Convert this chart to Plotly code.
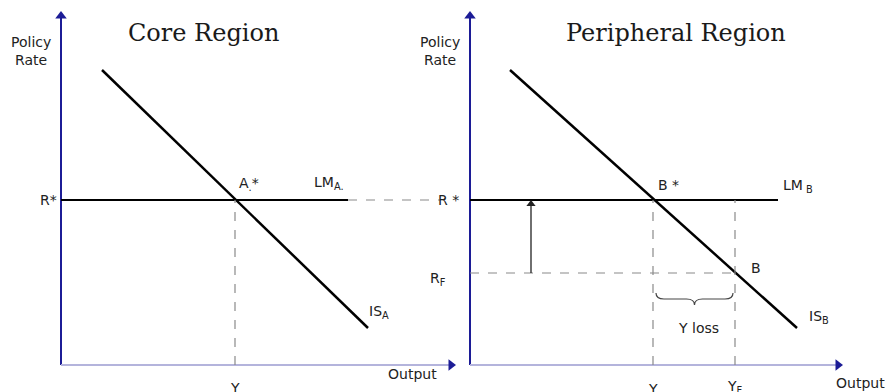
import plotly.graph_objects as go
from plotly.subplots import make_subplots

# values, origin of each panel at its axes corner
# core region (A)
is_a_x = [41, 307]
is_a_y = [295, 37]
r_star = 165
y_star_a = 174
lm_a_end = 287
lm_a_dash_end = 379
xaxis_a_end = 394

# peripheral region (B)
is_b_x = [40, 327]
is_b_y = [295, 37]
y_star_b = 183
y_f = 265
r_f = 92
lm_b_end = 308
arrow_b_x = 61
xaxis_b_end = 372

yaxis_top = 353

navy = "#1c1c96"
lav = "#b4b4dc"
grey = "#8a8a8a"
txt = dict(family="DejaVu Sans", size=14, color="#222")

fig = make_subplots(rows=1, cols=2, horizontal_spacing=0)

def line(x, y, col, dash="solid", width=2.2, color="black"):
    fig.add_trace(go.Scatter(x=x, y=y, mode="lines", hoverinfo="skip",
                             line=dict(color=color, width=width, dash=dash),
                             showlegend=False), row=1, col=col)

def head(x, y, col, sym, color, size=10):
    fig.add_trace(go.Scatter(x=[x], y=[y], mode="markers", hoverinfo="skip",
                             marker=dict(symbol=sym, size=size, color=color),
                             showlegend=False), row=1, col=col)

# axes lines with arrow heads
for col, xend in [(1, xaxis_a_end), (2, xaxis_b_end)]:
    line([0, 0], [0, yaxis_top - 4], col, width=2, color=navy)
    line([0, xend - 4], [0, 0], col, width=2, color=lav)
    head(0, yaxis_top - 4, col, "triangle-up", navy)
    head(xend - 4, 0, col, "triangle-right", navy)

# core region
line(is_a_x, is_a_y, 1, width=2.5)
line([0, lm_a_end], [r_star, r_star], 1)
line([lm_a_end, lm_a_dash_end], [r_star, r_star], 1, dash="dash", width=1.2, color=grey)
line([y_star_a, y_star_a], [0, r_star], 1, dash="dash", width=1.2, color=grey)

# peripheral region
line(is_b_x, is_b_y, 2, width=2.5)
line([0, lm_b_end], [r_star, r_star], 2)
line([0, y_f], [r_f, r_f], 2, dash="dash", width=1.2, color=grey)
line([y_star_b, y_star_b], [0, r_star], 2, dash="dash", width=1.2, color=grey)
line([y_f, y_f], [0, r_star], 2, dash="dash", width=1.2, color=grey)
line([arrow_b_x, arrow_b_x], [r_f, r_star - 5], 2, width=1.3, color="#222")
head(arrow_b_x, r_star - 4, 2, "triangle-up", "#222", size=8)

# brace under the output loss
bx0, bx1 = y_star_b + 3, y_f - 2
bm = (bx0 + bx1) / 2
btop, bbot = r_f - 20, r_f - 32
brace = (f"M {bx0},{btop} Q {bx0},{btop - 6} {bx0 + 8},{btop - 6} "
         f"L {bm - 8},{btop - 6} Q {bm},{btop - 6} {bm},{bbot} "
         f"Q {bm},{btop - 6} {bm + 8},{btop - 6} "
         f"L {bx1 - 8},{btop - 6} Q {bx1},{btop - 6} {bx1},{btop}")
fig.add_shape(type="path", path=brace, line=dict(color="#444", width=1.2),
              xref="x2", yref="y2")

serif = dict(family="DejaVu Serif", size=24, color="#1a1a1a")
labels = [
    ("x", "y", -30, 314, "Policy<br>Rate", txt),
    ("x", "y", 142, 332, "Core Region", serif),
    ("x", "y", -13, r_star, "R*", txt),
    ("x", "y", y_star_a + 14, r_star + 16, "A<sub>.</sub>*", txt),
    ("x", "y", lm_a_end - 19, r_star + 17, "LM<sub>A.</sub>", txt),
    ("x", "y", is_a_x[1] + 11, is_a_y[1] + 16, "IS<sub>A</sub>", txt),
    ("x", "y", y_star_a, -23, "Y", txt),
    ("x", "y", 351, -9, "Output", txt),
    ("x2", "y2", -30, 314, "Policy<br>Rate", txt),
    ("x2", "y2", 206, 332, "Peripheral Region", serif),
    ("x2", "y2", -22, r_star, "R *", txt),
    ("x2", "y2", -32, r_f - 6, "R<sub>F</sub>", txt),
    ("x2", "y2", y_star_b + 15, r_star + 15, "B *", txt),
    ("x2", "y2", lm_b_end + 20, r_star + 14, "LM<sub> B</sub>", txt),
    ("x2", "y2", y_f + 21, r_f + 5, "B", txt),
    ("x2", "y2", is_b_x[1] + 22, is_b_y[1] + 11, "IS<sub>B</sub>", txt),
    ("x2", "y2", bm + 4, bbot - 23, "Y loss", txt),
    ("x2", "y2", y_star_b, -24, "Y", txt),
    ("x2", "y2", y_f, -22, "Y<sub>F</sub>", txt),
    ("x2", "y2", 390, -18, "Output", txt),
]
for xr, yr, x, y, t, f in labels:
    fig.add_annotation(x=x, y=y, xref=xr, yref=yr, text=t, showarrow=False, font=f)

fig.update_xaxes(visible=False)
fig.update_yaxes(visible=False, range=[-27, 365])
# panels overlap a little so each keeps its own labels in range
fig.update_layout(
    xaxis=dict(domain=[0, 465 / 885], range=[-61, 404]),
    xaxis2=dict(domain=[400 / 885, 1], range=[-70, 415]),
    width=885, height=392, margin=dict(l=0, r=0, t=0, b=0),
    plot_bgcolor="rgba(0,0,0,0)", paper_bgcolor="white",
)
fig.write_html("out.html", config={"displayModeBar": False},
               post_script="document.body.style.margin='0px';")
